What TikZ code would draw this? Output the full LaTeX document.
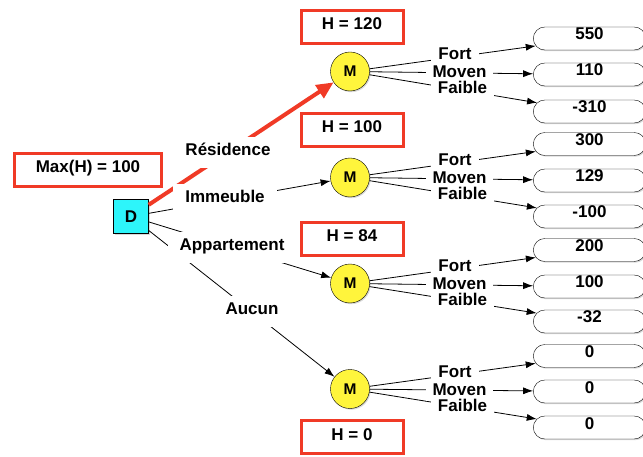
\documentclass[tikz,border=0pt]{standalone}
\usepackage{fontspec}
\setmainfont{Liberation Sans}
\usetikzlibrary{arrows.meta,shapes.misc,shadows}
\definecolor{hred}{RGB}{240,58,38}
\definecolor{dcyan}{RGB}{45,245,250}
\definecolor{myellow}{RGB}{255,245,60}
\begin{document}
\begin{tikzpicture}[x=1pt,y=-1pt,
  every node/.style={font=\bfseries\fontsize{17}{17}\selectfont},
  sh/.style={drop shadow={opacity=0.3,shadow xshift=1.2pt,shadow yshift=-1.2pt}},
  hbox/.style={draw=hred,line width=3pt,fill=white,minimum width=102pt,minimum height=33pt,
    text height=12pt,text depth=6pt,inner sep=0pt,sh},
  dec/.style={draw,fill=dcyan,minimum width=35pt,minimum height=34pt,inner sep=0pt,
    font=\bfseries\fontsize{17}{17}\selectfont,sh},
  chance/.style={circle,draw,fill=myellow,minimum size=39pt,inner sep=0pt,
    font=\bfseries\fontsize{15.5}{15.5}\selectfont,sh},
  outbox/.style={rounded rectangle,draw,fill=white,minimum width=119pt,minimum height=23pt,
    inner ysep=1pt,text height=12pt,text depth=9pt,sh},
  lab/.style={fill=white,inner xsep=12pt,inner ysep=7pt,text height=12pt,text depth=5pt},
  olab/.style={fill=white,inner xsep=7pt,inner ysep=2pt,text height=12pt,text depth=4pt},
  arr/.style={-{Latex[length=10pt,width=7pt]},line width=0.8pt},
]
\useasboundingbox (0,0) rectangle (643,457);

% boxes
\node[hbox,minimum width=147pt] (maxh) at (88,170) {Max(H) = 100};
\node[hbox] (h1) at (352,27) {H = 120};
\node[hbox] (h2) at (352,130) {H = 100};
\node[hbox] (h3) at (352,239) {H = 84};
\node[hbox] (h4) at (352,437) {H = 0};

\node[dec] (D) at (131,216.5) {D};
\node[chance] (M1) at (350,71.5) {M};
\node[chance] (M2) at (350,177.5) {M};
\node[chance] (M3) at (350,283.5) {M};
\node[chance] (M4) at (350,389) {M};

\node[outbox] (o1a) at (589.5,38.5) {550};
\node[outbox] (o1b) at (589.5,74.5) {110};
\node[outbox] (o1c) at (589.5,111.5) {-310};
\node[outbox] (o2a) at (589.5,144) {300};
\node[outbox] (o2b) at (589.5,180.5) {129};
\node[outbox] (o2c) at (589.5,216.5) {-100};
\node[outbox] (o3a) at (589.5,250) {200};
\node[outbox] (o3b) at (589.5,286.5) {100};
\node[outbox] (o3c) at (589.5,321.5) {-32};
\node[outbox] (o4a) at (589.5,356) {0};
\node[outbox] (o4b) at (589.5,391.5) {0};
\node[outbox] (o4c) at (589.5,427.5) {0};

% connectors
\draw[hred,line width=4pt,-{Triangle[length=17pt,width=15pt]}] (D) -- (M1);
\draw[arr] (D) -- (M2);
\draw[arr] (D) -- (M3);
\draw[arr] (D) -- (M4);

\draw[arr] (M1) -- (o1a);
\draw[arr] (M1) -- (o1b);
\draw[arr] (M1) -- (o1c);
\draw[arr] (M2) -- (o2a);
\draw[arr] (M2) -- (o2b);
\draw[arr] (M2) -- (o2c);
\draw[arr] (M3) -- (o3a);
\draw[arr] (M3) -- (o3b);
\draw[arr] (M3) -- (o3c);
\draw[arr] (M4) -- (o4a);
\draw[arr] (M4) -- (o4b);
\draw[arr] (M4) -- (o4c);

% labels
\node[lab] (lres) at (228,152.5) {Résidence};
\node[lab] (limm) at (225,199.5) {Immeuble};
\node[lab] (lapp) at (232,247.5) {Appartement};
\node[lab] (lauc) at (252,311.5) {Aucun};

\node[olab] (f1) at (455,56) {Fort};
\node[olab] (m1) at (459.5,73.5) {Moven};
\node[olab] (b1) at (462.5,89.5) {Faible};
\node[olab] (f2) at (455,162) {Fort};
\node[olab] (m2) at (459.5,179.5) {Moven};
\node[olab] (b2) at (462.5,195.5) {Faible};
\node[olab] (f3) at (455,268) {Fort};
\node[olab] (m3) at (459.5,285.5) {Moven};
\node[olab] (b3) at (462.5,301.5) {Faible};
\node[olab] (f4) at (455,373.5) {Fort};
\node[olab] (m4) at (459.5,391) {Moven};
\node[olab] (b4) at (462.5,407) {Faible};
\end{tikzpicture}
\end{document}
